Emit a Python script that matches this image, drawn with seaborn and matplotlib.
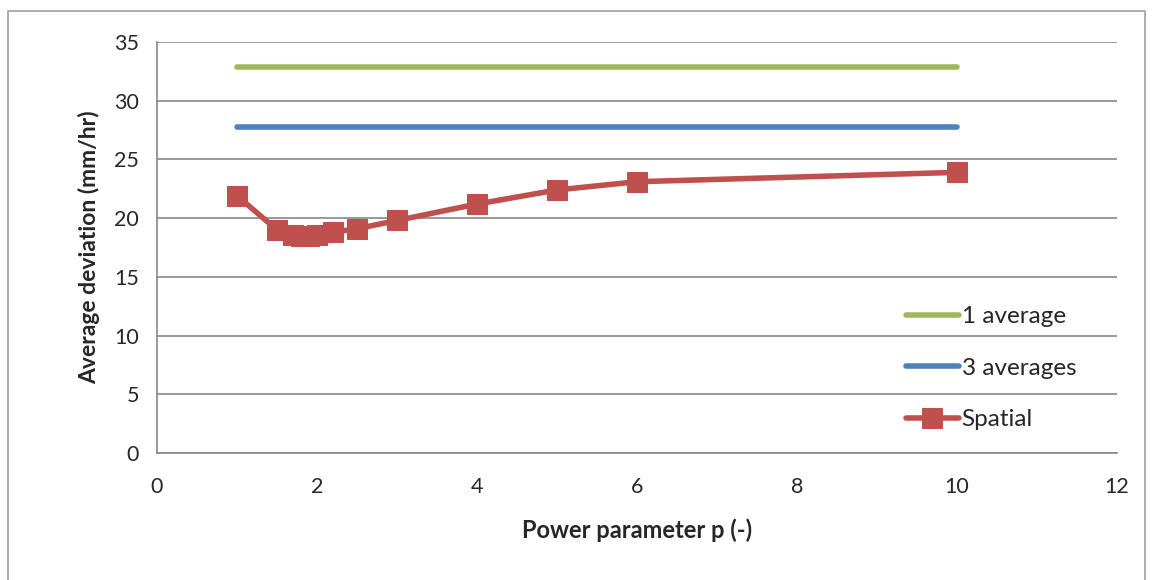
import numpy as np
import pandas as pd
import seaborn as sns
from matplotlib import pyplot as plt
from matplotlib.patches import Rectangle

# # Data

p_values = [1, 1.5, 1.7, 1.8, 1.9, 2.0, 2.2, 2.5, 3, 4, 5, 6, 10]
spatial = [21.9, 19.0, 18.6, 18.5, 18.5, 18.6, 18.8, 19.1, 19.8, 21.2, 22.4, 23.1, 23.9]

avg_x = [1, 10]
one_average = [32.9, 32.9]
three_averages = [27.8, 27.8]

green = "#9BBB59"
blue = "#4F81BD"
red = "#C0504D"
grid_grey = "#888888"

sns.set_style("white")
plt.rcParams["font.family"] = ["Lato", "DejaVu Sans"]

fig = plt.figure(figsize=(11.53, 5.8), dpi=100)
ax = fig.add_axes([0.1362, 0.219, 0.9688 - 0.1362, 0.9276 - 0.219])

# outer chart frame (bottom runs off the image like the reference)
fig.patches.append(Rectangle((8 / 1153, -10 / 580), 1137 / 1153, 579 / 580,
                             transform=fig.transFigure, fill=False,
                             edgecolor="#a0a0a0", linewidth=1.2))

df_avg = pd.DataFrame({"p": avg_x, "one": one_average, "three": three_averages})
df_sp = pd.DataFrame({"p": p_values, "dev": spatial})

sns.lineplot(data=df_avg, x="p", y="one", ax=ax, color=green, linewidth=4,
             label="1 average")
sns.lineplot(data=df_avg, x="p", y="three", ax=ax, color=blue, linewidth=4,
             label="3 averages")
sns.lineplot(data=df_sp, x="p", y="dev", ax=ax, color=red, linewidth=4,
             marker="s", markersize=14, markeredgecolor=red, label="Spatial")

ax.set_xlim(0, 12)
ax.set_ylim(0, 35)
ax.set_xticks(range(0, 13, 2))
ax.set_yticks(range(0, 36, 5))
ax.yaxis.grid(True, color=grid_grey, linewidth=1.2)
ax.set_axisbelow(True)

for side in ["top", "right"]:
    ax.spines[side].set_visible(False)
for side in ["left", "bottom"]:
    ax.spines[side].set_color(grid_grey)
    ax.spines[side].set_linewidth(1.2)

ax.tick_params(axis="y", length=5, color=grid_grey, labelsize=15.5, pad=8)
ax.tick_params(axis="x", length=0, labelsize=15.5, pad=17)

ax.set_xlabel("Power parameter p (-)", fontsize=17, weight="bold", labelpad=16)
ax.set_ylabel("Average deviation (mm/hr)", fontsize=16.5, weight="bold", labelpad=10)

ax.legend(loc="upper left", bbox_to_anchor=(0.757, 0.41), frameon=False,
          fontsize=17.5, handlelength=2.2, handletextpad=0.1, labelspacing=1.25)

fig.savefig("out.png", dpi=100)
